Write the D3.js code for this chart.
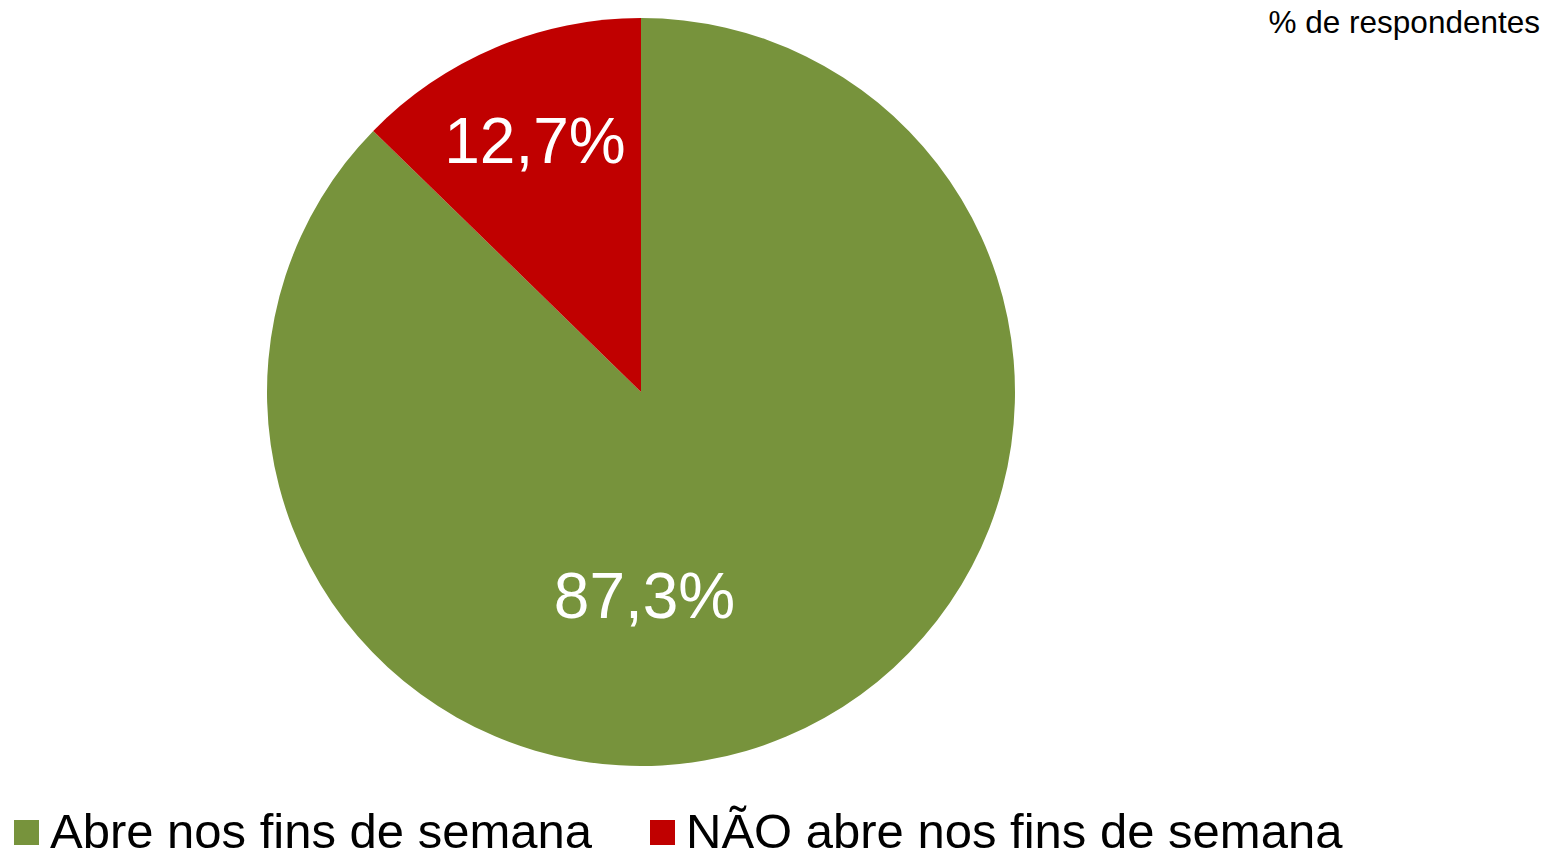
<!DOCTYPE html>
<html>
<head>
<meta charset="utf-8">
<script src="https://cdn.jsdelivr.net/npm/d3@7"></script>
<style>
  html, body { margin: 0; padding: 0; background: #ffffff; }
  svg { display: block; font-family: "Liberation Sans", Arial, sans-serif; }
</style>
</head>
<body>
<svg id="chart" width="1545" height="853"></svg>
<script>
const categories = ["Abre nos fins de semana", "NÃO abre nos fins de semana"];
const values = [87.3, 12.7];
const labels = ["87,3%", "12,7%"];
const colors = ["#77933C", "#C00000"];
const unitLabel = "% de respondentes";
// label placement (as in the original: best-fit), angle in degrees clockwise from top (null = slice mid-angle), radius fraction
const labelAngle = [179, null];
const labelRadius = [0.542, 0.73];

const svg = d3.select("#chart");
const cx = 641, cy = 392, r = 374;

const pie = d3.pie().sort(null).value(d => d.v);
const data = categories.map((c, i) => ({ c, v: values[i], l: labels[i], col: colors[i], la: labelAngle[i], lr: labelRadius[i] }));
const arcs = pie(data);
const arc = d3.arc().innerRadius(0).outerRadius(r);

const g = svg.append("g").attr("transform", `translate(${cx},${cy})`);
g.selectAll("path").data(arcs).join("path")
  .attr("d", arc)
  .attr("fill", d => d.data.col);

g.selectAll("text.lbl").data(arcs).join("text")
  .attr("class", "lbl")
  .attr("transform", d => {
    const a = d.data.la == null ? (d.startAngle + d.endAngle) / 2 : d.data.la * Math.PI / 180;
    const rr = d.data.lr * r;
    return `translate(${rr * Math.sin(a)},${-rr * Math.cos(a)})`;
  })
  .attr("text-anchor", "middle")
  .attr("dy", "0.36em")
  .attr("fill", "#ffffff")
  .style("font-size", "64px")
  .text(d => d.data.l);

svg.append("text")
  .attr("x", 1540).attr("y", 33)
  .attr("text-anchor", "end")
  .style("font-size", "31.5px")
  .attr("fill", "#000")
  .text(unitLabel);

// legend
const legendX = [14, 650];
const leg = svg.append("g");
data.forEach((d, i) => {
  leg.append("rect")
    .attr("x", legendX[i]).attr("y", 820)
    .attr("width", 25).attr("height", 25)
    .attr("fill", d.col);
  leg.append("text")
    .attr("x", legendX[i] + 36).attr("y", 848)
    .style("font-size", "49px")
    .attr("fill", "#000")
    .text(d.c);
});
</script>
</body>
</html>
